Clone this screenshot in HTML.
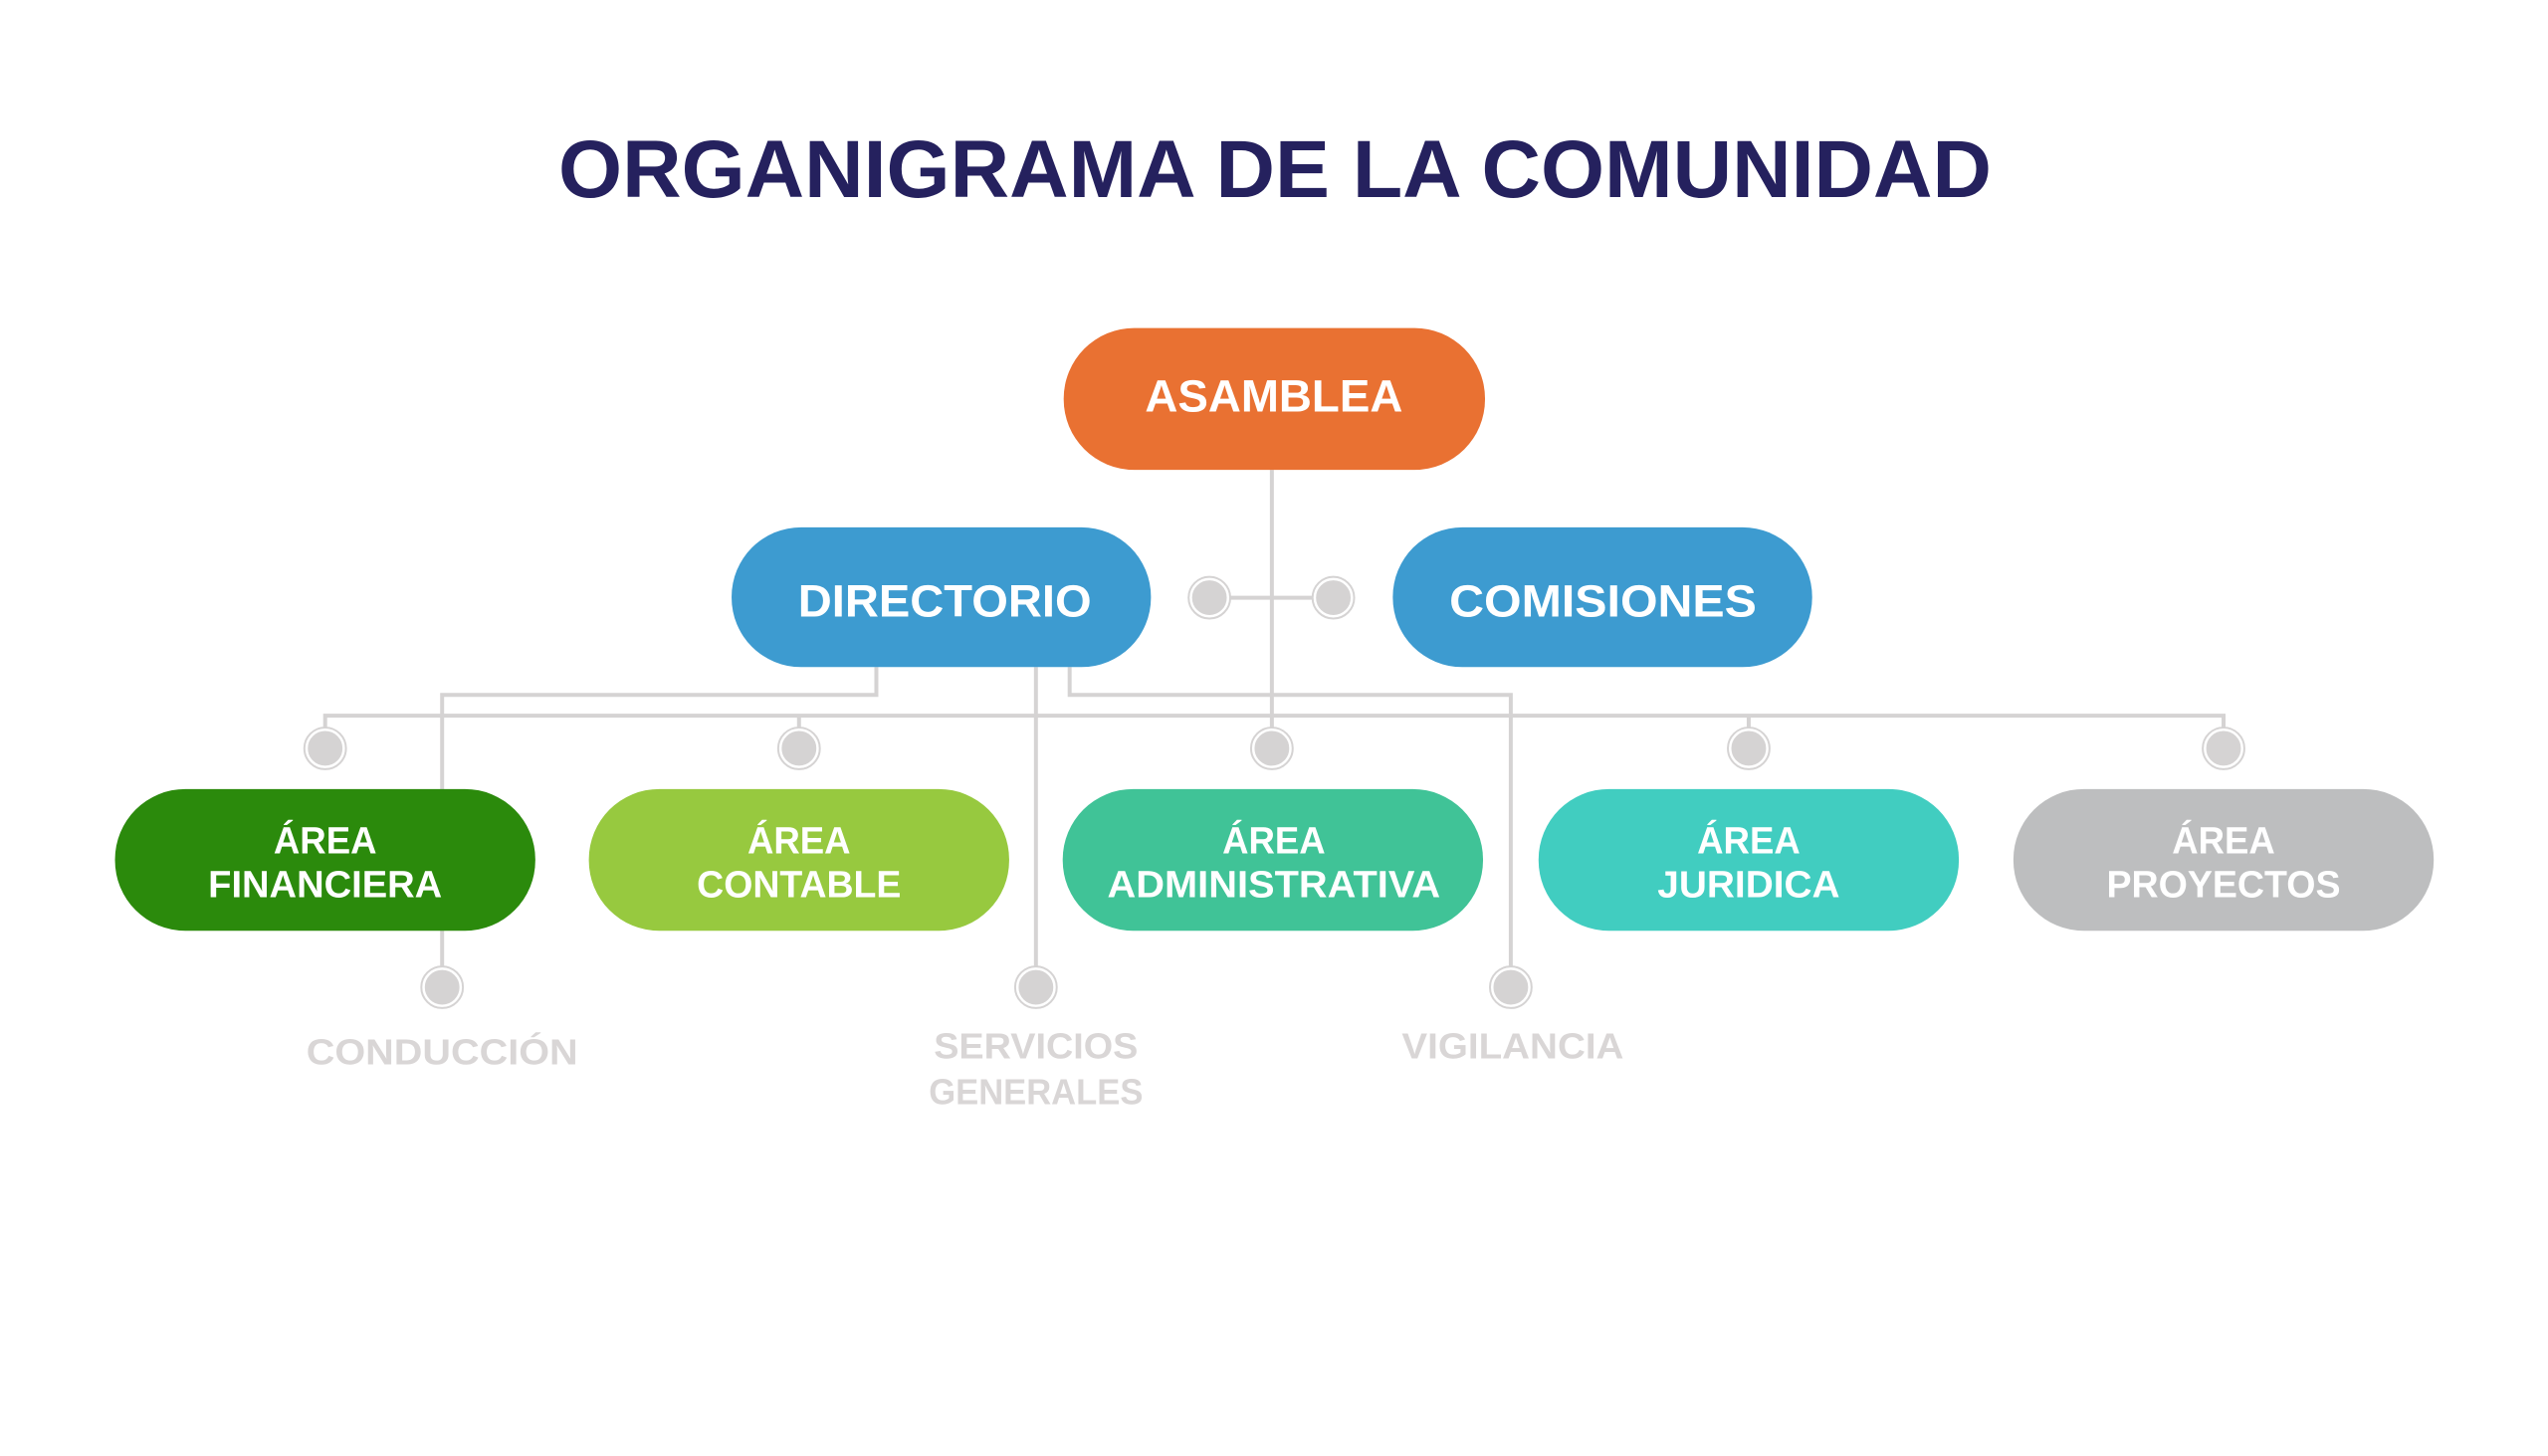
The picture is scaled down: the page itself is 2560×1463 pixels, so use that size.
<!DOCTYPE html>
<html><head><meta charset="utf-8"><style>
html,body{margin:0;padding:0;background:#fff;width:2560px;height:1463px;overflow:hidden}
svg{display:block}
text{font-family:"Liberation Sans",sans-serif;font-weight:bold}
</style></head><body>
<svg width="2560" height="1463" viewBox="0 0 2560 1463" xmlns="http://www.w3.org/2000/svg">
<rect width="2560" height="1463" fill="#fff"/>
<text x="1281" y="198" text-anchor="middle" font-size="82" fill="#25215e" textLength="1440" lengthAdjust="spacingAndGlyphs">ORGANIGRAMA DE LA COMUNIDAD</text>
<g transform="scale(0.996)">
<g stroke="#d5d3d3" stroke-width="4" fill="none">
<line x1="1283" y1="474" x2="1283" y2="752"/>
<line x1="1217" y1="603" x2="1343" y2="603"/>
<polyline points="884,673 884,701 446,701 446,996"/>
<polyline points="1079,673 1079,701 1524,701 1524,996"/>
<line x1="1045" y1="673" x2="1045" y2="996"/>
<polyline points="328,752 328,722 2243,722 2243,752"/>
<line x1="806" y1="722" x2="806" y2="752"/>
<line x1="1764" y1="722" x2="1764" y2="752"/>
</g>
<g fill="#d5d3d3" stroke="#fff" stroke-width="3">
<circle cx="1220" cy="603" r="19"/><circle cx="1345" cy="603" r="19"/>
<circle cx="328" cy="755" r="19"/><circle cx="806" cy="755" r="19"/><circle cx="1283" cy="755" r="19"/><circle cx="1764" cy="755" r="19"/><circle cx="2243" cy="755" r="19"/>
<circle cx="446" cy="996" r="19"/><circle cx="1045" cy="996" r="19"/><circle cx="1524" cy="996" r="19"/>
</g>
<g fill="none" stroke="#d5d3d3" stroke-width="2">
<circle cx="1220" cy="603" r="21"/><circle cx="1345" cy="603" r="21"/>
<circle cx="328" cy="755" r="21"/><circle cx="806" cy="755" r="21"/><circle cx="1283" cy="755" r="21"/><circle cx="1764" cy="755" r="21"/><circle cx="2243" cy="755" r="21"/>
<circle cx="446" cy="996" r="21"/><circle cx="1045" cy="996" r="21"/><circle cx="1524" cy="996" r="21"/>
</g>
<rect x="1073" y="331" width="425" height="143" rx="71" fill="#e97132"/>
<rect x="738" y="532" width="423" height="141" rx="70" fill="#3d9bd0"/>
<rect x="1405" y="532" width="423" height="141" rx="70" fill="#3d9bd0"/>
<rect x="116" y="796" width="424" height="143" rx="71" fill="#2b8a0c"/>
<rect x="594" y="796" width="424" height="143" rx="71" fill="#97c93f"/>
<rect x="1072" y="796" width="424" height="143" rx="71" fill="#40c397"/>
<rect x="1552" y="796" width="424" height="143" rx="71" fill="#41cdc0"/>
<rect x="2031" y="796" width="424" height="143" rx="71" fill="#bdbebf"/>
<g fill="#fff" text-anchor="middle" font-size="46">
<text x="1285" y="415" textLength="260" lengthAdjust="spacingAndGlyphs">ASAMBLEA</text>
<text x="953" y="622" textLength="296" lengthAdjust="spacingAndGlyphs">DIRECTORIO</text>
<text x="1617" y="622" textLength="310" lengthAdjust="spacingAndGlyphs">COMISIONES</text>
</g>
<g fill="#fff" text-anchor="middle" font-size="38">
<text x="328" y="861" textLength="104" lengthAdjust="spacingAndGlyphs">ÁREA</text>
<text x="328" y="905" textLength="236" lengthAdjust="spacingAndGlyphs">FINANCIERA</text>
<text x="806" y="861" textLength="104" lengthAdjust="spacingAndGlyphs">ÁREA</text>
<text x="806" y="905" textLength="206" lengthAdjust="spacingAndGlyphs">CONTABLE</text>
<text x="1285" y="861" textLength="104" lengthAdjust="spacingAndGlyphs">ÁREA</text>
<text x="1285" y="905" textLength="336" lengthAdjust="spacingAndGlyphs">ADMINISTRATIVA</text>
<text x="1764" y="861" textLength="104" lengthAdjust="spacingAndGlyphs">ÁREA</text>
<text x="1764" y="905" textLength="184" lengthAdjust="spacingAndGlyphs">JURIDICA</text>
<text x="2243" y="861" textLength="104" lengthAdjust="spacingAndGlyphs">ÁREA</text>
<text x="2243" y="905" textLength="236" lengthAdjust="spacingAndGlyphs">PROYECTOS</text>
</g>
<g fill="#d9d6d6" text-anchor="middle" font-size="36">
<text x="446" y="1074" textLength="274" lengthAdjust="spacingAndGlyphs">CONDUCCIÓN</text>
<text x="1045" y="1068" textLength="206" lengthAdjust="spacingAndGlyphs">SERVICIOS</text>
<text x="1045" y="1114" textLength="216" lengthAdjust="spacingAndGlyphs">GENERALES</text>
<text x="1526" y="1068" textLength="224" lengthAdjust="spacingAndGlyphs">VIGILANCIA</text>
</g>
</g>
</svg>
</body></html>
